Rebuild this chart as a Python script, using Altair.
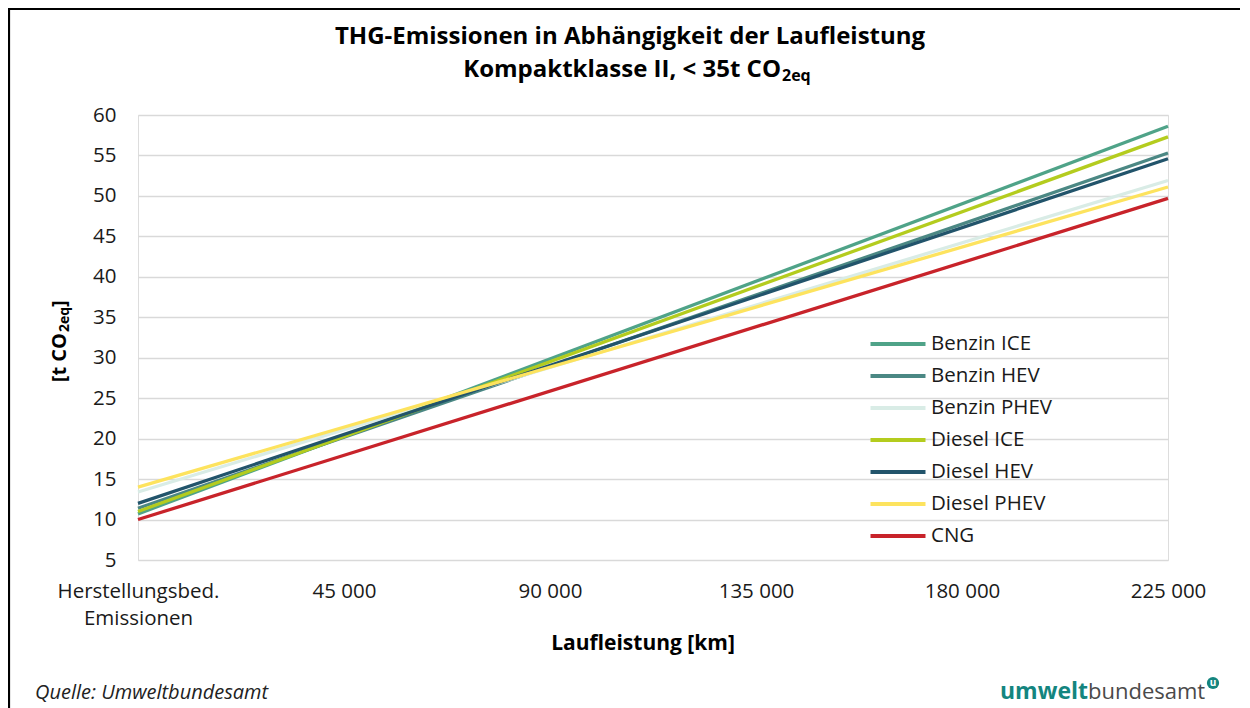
import altair as alt
import pandas as pd

# ---- data ----
series = ["Benzin ICE", "Benzin HEV", "Benzin PHEV", "Diesel ICE", "Diesel HEV", "Diesel PHEV", "CNG"]
colors = ["#4fa388", "#4b8884", "#d9ece6", "#b4cc1e", "#22546b", "#fde35e", "#c8232a"]
km = [0, 225000]
start_vals = [10.7, 11.4, 13.4, 11.0, 12.0, 14.0, 10.0]
end_vals = [58.6, 55.3, 51.9, 57.3, 54.6, 51.1, 49.7]
x_ticks = [0, 45000, 90000, 135000, 180000, 225000]
y_ticks = [5, 10, 15, 20, 25, 30, 35, 40, 45, 50, 55, 60]

rows = []
for i, s in enumerate(series):
    rows.append({"series": s, "order": i, "km": km[0], "t": start_vals[i]})
    rows.append({"series": s, "order": i, "km": km[1], "t": end_vals[i]})
df = pd.DataFrame(rows)

FONT = "Open Sans"
W, H = 1030, 445

lines = alt.Chart(df).mark_line(strokeWidth=3.3, strokeCap="butt").encode(
    x=alt.X("km:Q", scale=alt.Scale(domain=[0, 225000], nice=False),
            axis=alt.Axis(values=x_ticks, title=None, grid=False, ticks=False, domain=False,
                          labelExpr="datum.value == 0 ? ['Herstellungsbed.', 'Emissionen'] : replace(format(datum.value, ','), ',', ' ')",
                          labelFontSize=20.5, labelFont=FONT, labelColor="#1a1a1a", labelPadding=21,
                          labelLineHeight=27, labelBaseline="top", labelFlush=False)),
    y=alt.Y("t:Q", scale=alt.Scale(domain=[5, 60], nice=False),
            axis=alt.Axis(values=y_ticks, title=None, grid=True, gridColor="#d9d9d9", gridWidth=1.5,
                          ticks=False, domain=False, labelFontSize=20.5, labelFont=FONT,
                          labelColor="#1a1a1a", labelPadding=22)),
    color=alt.Color("series:N", scale=alt.Scale(domain=series, range=colors),
                    legend=alt.Legend(title=None, orient="none", legendX=744, legendY=213,
                                      symbolType="M-2,0H2", symbolStrokeWidth=4, symbolSize=756,
                                      symbolFillColor="transparent",
                                      labelFontSize=20.5, labelFont=FONT, labelColor="#1a1a1a",
                                      rowPadding=5, labelOffset=17)),
    order=alt.Order("order:Q"),
    detail="series:N",
)

one = pd.DataFrame({"a": [0]})


def txt(text, x, y, size, weight="normal", align="center", style="normal", color="#000000", angle=0, baseline="alphabetic"):
    kw = dict(fontSize=size, font=FONT, fontWeight=weight, align=align, fontStyle=style,
              color=color, baseline=baseline)
    if angle:
        kw["angle"] = angle
    return alt.Chart(one).mark_text(**kw).encode(x=alt.value(x), y=alt.value(y), text=alt.value(text))


texts = [
    txt("THG-Emissionen in Abhängigkeit der Laufleistung", 492, -71, 24, "bold"),
    txt("Kompaktklasse II, < 35t CO", 643, -38, 24, "bold", align="right"),
    txt("2eq", 644, -34, 16, "bold", align="left"),
    txt("[t CO", -78, 218, 20, "bold", align="right", angle=270, baseline="middle"),
    txt("2eq", -73, 217, 14, "bold", align="left", angle=270, baseline="middle"),
    txt("]", -78, 192, 20, "bold", align="left", angle=270, baseline="middle"),
    txt("Laufleistung [km]", 505, 535, 21, "bold"),
    txt("Quelle: Umweltbundesamt", -103, 584, 20, style="italic", align="left", color="#222222"),
    txt("umwelt", 862, 584, 23, "bold", align="left", color="#14857f"),
    txt("bundesamt", 950, 584, 22, "normal", align="left", color="#4a4a4a"),
]

logo_dot = alt.Chart(one).mark_point(filled=True, shape="circle", size=150, color="#14857f", opacity=1).encode(
    x=alt.value(1075), y=alt.value(568))
logo_u = txt("u", 1075, 568, 10, "bold", color="#ffffff", baseline="middle")

frame_top = alt.Chart(one).mark_rule(color="#000000", strokeWidth=2.2).encode(
    x=alt.value(-130), x2=alt.value(1102), y=alt.value(-106))
frame_left = alt.Chart(one).mark_rule(color="#000000", strokeWidth=2.2).encode(
    x=alt.value(-129), y=alt.value(-107), y2=alt.value(610))

chart = alt.layer(lines, *texts, logo_dot, logo_u, frame_top, frame_left).properties(
    width=W, height=H,
    autosize=alt.AutoSizeParams(type="none"),
    padding={"left": 130, "top": 107, "right": 72, "bottom": 148},
).configure_view(stroke="#d9d9d9", strokeWidth=1.5).configure(background="white")

chart.save("out.html", embed_options={"renderer": "svg", "actions": False})
